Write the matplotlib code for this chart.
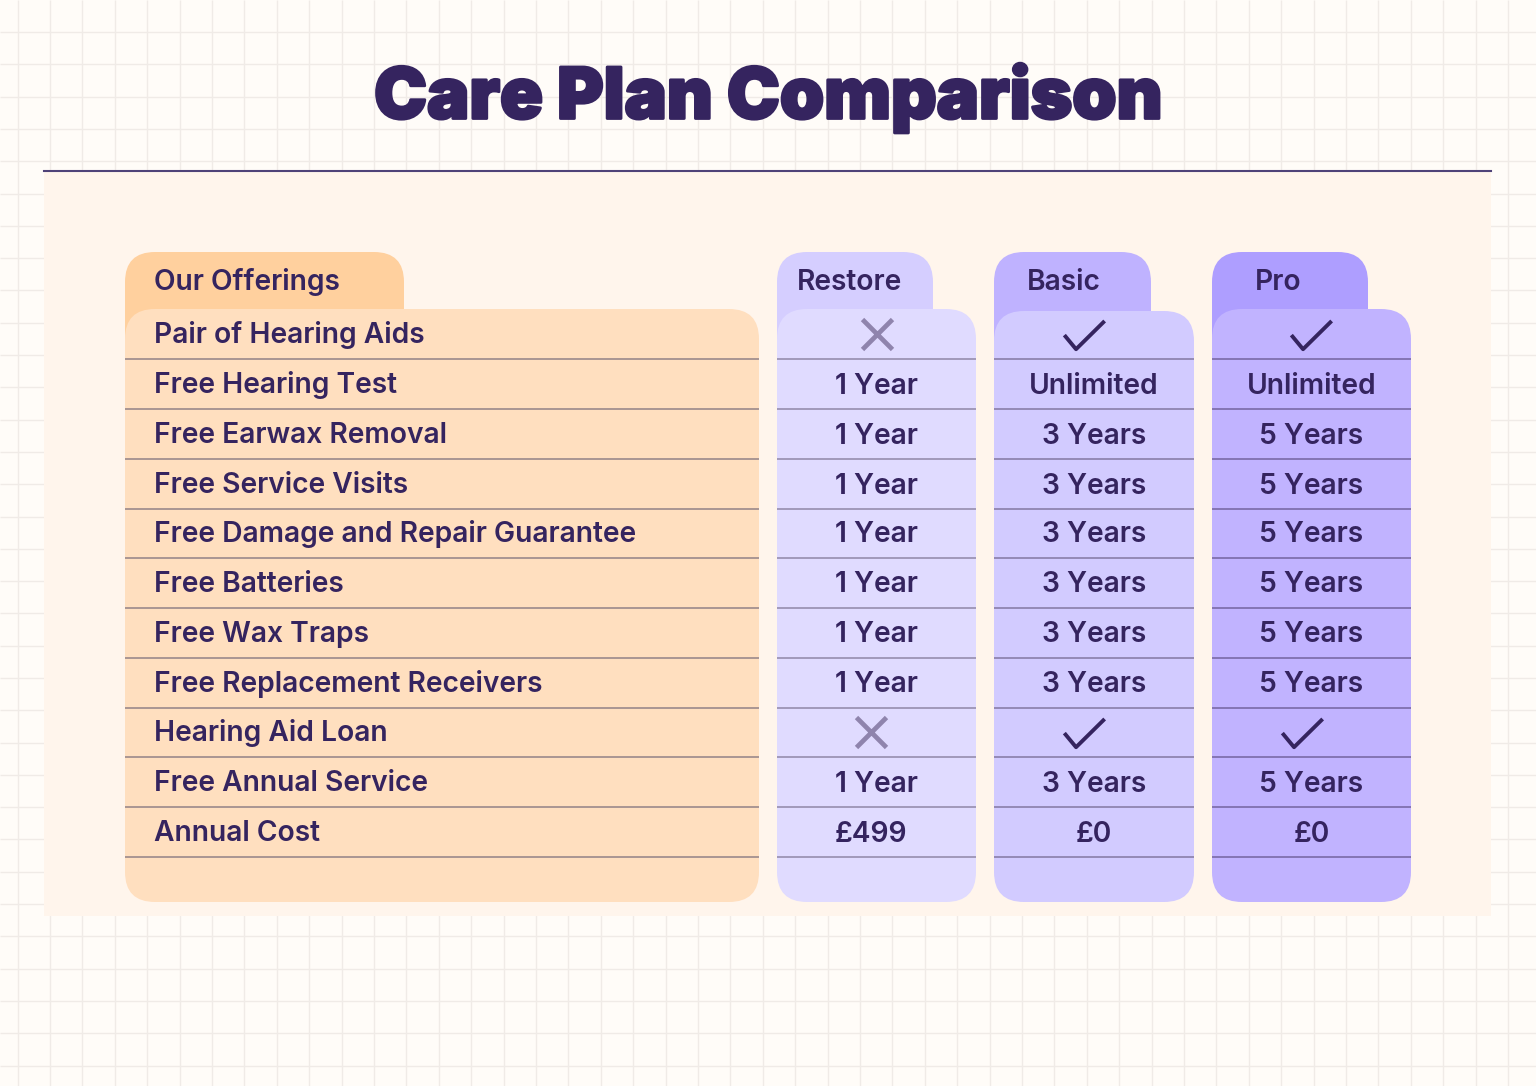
import numpy as np
import matplotlib
matplotlib.use('Agg')
import matplotlib.pyplot as plt
from matplotlib.patches import FancyBboxPatch, Rectangle
from matplotlib.path import Path
import matplotlib.patheffects as pe

title = 'Care Plan Comparison'
offer_header = 'Our Offerings'
plan_names = ['Restore', 'Basic', 'Pro']
offerings = ['Pair of Hearing Aids', 'Free Hearing Test', 'Free Earwax Removal', 'Free Service Visits',
             'Free Damage and Repair Guarantee', 'Free Batteries', 'Free Wax Traps',
             'Free Replacement Receivers', 'Hearing Aid Loan', 'Free Annual Service', 'Annual Cost']
restore = ['no', '1 Year', '1 Year', '1 Year', '1 Year', '1 Year', '1 Year', '1 Year', 'no', '1 Year', '£499']
basic = ['yes', 'Unlimited', '3 Years', '3 Years', '3 Years', '3 Years', '3 Years', '3 Years', 'yes', '3 Years', '£0']
pro = ['yes', 'Unlimited', '5 Years', '5 Years', '5 Years', '5 Years', '5 Years', '5 Years', 'yes', '5 Years', '£0']

# layout, in pixels of the 1536x1086 picture
row_lines = [359, 409, 459, 509, 558, 608, 658, 708, 757, 807, 857]
col_left = [777, 994, 1212]
col_right = [976, 1194, 1411]
col_top = [309, 311, 309]
tab_right = [933, 1151, 1368]
head_x = [797, 1027, 1255]
tab_colors = ['#D5CEFF', '#BFB2FF', '#AE9EFF']
body_colors = ['#E0DBFF', '#D2CBFF', '#C1B3FF']
line_colors = ['#9C93B4', '#8F85B0', '#7F70AE']
ink = '#35245F'
body_size = 20.3

# the marks sit a little off centre in the original
mark_nudge = {(0, 8): -6, (1, 0): -9, (1, 8): -9, (2, 8): -9}
text_nudge = {(0, 10): -5.5}

plt.rcParams['font.family'] = ['Inter', 'DejaVu Sans']

fig = plt.figure(figsize=(15.36, 10.86), dpi=100, facecolor='#FFFCF8')
ax = fig.add_axes([0, 0, 1, 1])
ax.set_xlim(0, 1536)
ax.set_ylim(1086, 0)
ax.axis('off')

# background grid
ax.vlines(17.5 + 32.4 * np.arange(47), 0, 1086, color='#F0EBE7', lw=1.0, zorder=1)
ax.hlines(32 + 32.3 * np.arange(33), 0, 1536, color='#F0EBE7', lw=1.0, zorder=1)

ax.add_patch(Rectangle((44, 171), 1447, 745, fc='#FFF5EC', ec='none', zorder=2))
ax.plot([44, 1491], [170.5, 170.5], color='#4F4278', lw=1.5, zorder=3)


def rounded(x0, y0, x1, y1, color, r, z):
    ax.add_patch(FancyBboxPatch((x0, y0), x1 - x0, y1 - y0, boxstyle=f'round,pad=0,rounding_size={r}',
                                fc=color, ec='none', zorder=z))


ax.text(768, 118.5, title, ha='center', va='baseline', fontsize=51, fontweight='black', color=ink,
        path_effects=[pe.withStroke(linewidth=2.0, foreground=ink)], zorder=6)

# offerings column
rounded(125, 252, 404, 380, '#FFD09E', 30, 3)
rounded(125, 309, 759, 902, '#FFDFBF', 30, 4)
ax.hlines(row_lines, 125, 759, color='#A3908F', lw=1.3, zorder=5)
ax.text(154, 289.5, offer_header, fontsize=body_size, fontweight='semibold', color=ink, zorder=6)
for line_y, name in zip(row_lines, offerings):
    ax.text(154, line_y - 16, name, fontsize=body_size, fontweight='semibold', color=ink, zorder=6)

# plan columns
check = Path([(-1, 0.02), (-0.42, -0.68), (1, 0.72)], [Path.MOVETO, Path.LINETO, Path.LINETO])
for c, values in enumerate([restore, basic, pro]):
    rounded(col_left[c], 252, tab_right[c], 380, tab_colors[c], 30, 3)
    rounded(col_left[c], col_top[c], col_right[c], 902, body_colors[c], 30, 4)
    ax.hlines(row_lines, col_left[c], col_right[c], color=line_colors[c], lw=1.3, zorder=5)
    ax.text(head_x[c], 289.5, plan_names[c], fontsize=body_size, fontweight='semibold', color=ink, zorder=6)
    center = (col_left[c] + col_right[c]) / 2
    for r, value in enumerate(values):
        y = row_lines[r] - 25
        if value == 'yes':
            ax.plot(center + mark_nudge.get((c, r), 0) - 1, y + 1, marker=check, ms=29, mew=2.8, mfc='none',
                    mec=ink, ls='none', zorder=6)
        elif value == 'no':
            ax.plot(center + mark_nudge.get((c, r), 0), y, marker='x', ms=22, mew=3.4,
                    mec='#8F84AD', ls='none', zorder=6)
        else:
            ax.text(center + text_nudge.get((c, r), 0), row_lines[r] - 15.5, value, ha='center',
                    va='baseline', fontsize=body_size, fontweight='semibold', color=ink, zorder=6)

fig.savefig('out.png', dpi=100, facecolor=fig.get_facecolor())
